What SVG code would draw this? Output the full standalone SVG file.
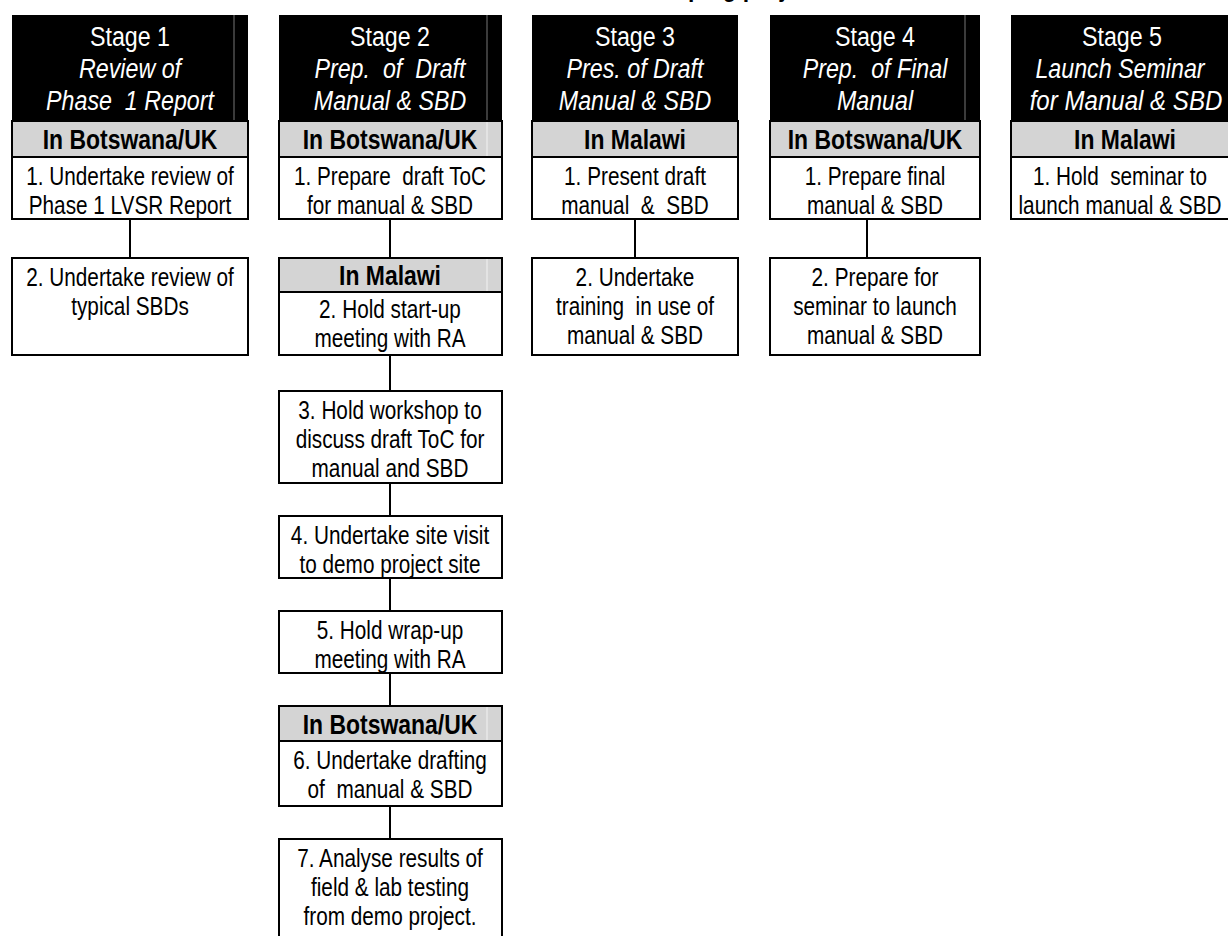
<svg xmlns="http://www.w3.org/2000/svg" width="1228" height="936" viewBox="0 0 1228 936">
<style>
text{font-family:"Liberation Sans",Arial,sans-serif;text-anchor:middle;white-space:pre}
.hd{fill:#000}
.gr{fill:#d4d4d4;stroke:#000;stroke-width:2}
.bx{fill:#fff;stroke:#000;stroke-width:2}
.h1{fill:#fff;font-size:28px}
.h2{fill:#fff;font-size:28px;font-style:italic}
.lb{fill:#000;font-size:27px;font-weight:bold}
.tx{fill:#000;font-size:25px}
.tl{fill:#000;font-size:27px;font-weight:bold;text-anchor:start}
.thin{stroke:#777;stroke-width:1}
.lite{stroke:#f2f2f2;stroke-width:1}
.cn{stroke:#000;stroke-width:2;fill:none}
</style>
<rect width="1228" height="936" fill="#fff"/>
<text class="tl" transform="translate(688,-4) scale(0.85,1)">ping project</text>

<g id="stage1">
<rect class="hd" x="12" y="15" width="236" height="106"/>
<line class="thin" x1="234" y1="15" x2="234" y2="121"/>
<text class="h1" transform="translate(130,46) scale(0.83,1)">Stage 1</text>
<text class="h2" transform="translate(130,78) scale(0.83,1)">Review of</text>
<text class="h2" transform="translate(130,110) scale(0.83,1)">Phase  1 Report</text>
<rect class="gr" x="12" y="121" width="236" height="36"/>
<text class="lb" transform="translate(130,149) scale(0.85,1)">In Botswana/UK</text>
<rect class="bx" x="12" y="157" width="236" height="62"/>
<text class="tx" transform="translate(130,185) scale(0.83,1)">1. Undertake review of</text>
<text class="tx" transform="translate(130,214) scale(0.83,1)">Phase 1 LVSR Report</text>
</g>
<g id="s1n2">
<rect class="bx" x="12" y="258" width="236" height="97"/>
<text class="tx" transform="translate(130,286) scale(0.83,1)">2. Undertake review of</text>
<text class="tx" transform="translate(130,315) scale(0.83,1)">typical SBDs</text>
</g>

<g id="stage2">
<rect class="hd" x="279" y="15" width="223" height="106"/>
<line class="thin" x1="487" y1="15" x2="487" y2="121"/>
<text class="h1" transform="translate(390,46) scale(0.83,1)">Stage 2</text>
<text class="h2" transform="translate(390,78) scale(0.83,1)">Prep.  of  Draft</text>
<text class="h2" transform="translate(390,110) scale(0.83,1)">Manual &amp; SBD</text>
<rect class="gr" x="279" y="121" width="223" height="36"/>
<line class="lite" x1="487" y1="122" x2="487" y2="156"/>
<text class="lb" transform="translate(390,149) scale(0.85,1)">In Botswana/UK</text>
<rect class="bx" x="279" y="157" width="223" height="62"/>
<text class="tx" transform="translate(390,185) scale(0.83,1)">1. Prepare  draft ToC</text>
<text class="tx" transform="translate(390,214) scale(0.83,1)">for manual &amp; SBD</text>
</g>
<g id="s2n2">
<rect class="gr" x="279" y="258" width="223" height="34"/>
<line class="lite" x1="487" y1="259" x2="487" y2="291"/>
<text class="lb" transform="translate(390,285) scale(0.85,1)">In Malawi</text>
<rect class="bx" x="279" y="292" width="223" height="63"/>
<text class="tx" transform="translate(390,318) scale(0.83,1)">2. Hold start-up</text>
<text class="tx" transform="translate(390,347) scale(0.83,1)">meeting with RA</text>
</g>
<g id="s2n3">
<rect class="bx" x="279" y="391" width="223" height="92"/>
<text class="tx" transform="translate(390,419) scale(0.83,1)">3. Hold workshop to</text>
<text class="tx" transform="translate(390,448) scale(0.83,1)">discuss draft ToC for</text>
<text class="tx" transform="translate(390,477) scale(0.83,1)">manual and SBD</text>
</g>
<g id="s2n4">
<rect class="bx" x="279" y="516" width="223" height="62"/>
<text class="tx" transform="translate(390,544) scale(0.83,1)">4. Undertake site visit</text>
<text class="tx" transform="translate(390,573) scale(0.83,1)">to demo project site</text>
</g>
<g id="s2n5">
<rect class="bx" x="279" y="611" width="223" height="62"/>
<text class="tx" transform="translate(390,639) scale(0.83,1)">5. Hold wrap-up</text>
<text class="tx" transform="translate(390,668) scale(0.83,1)">meeting with RA</text>
</g>
<g id="s2n6">
<rect class="gr" x="279" y="706" width="223" height="35"/>
<line class="lite" x1="487" y1="707" x2="487" y2="740"/>
<text class="lb" transform="translate(390,734) scale(0.85,1)">In Botswana/UK</text>
<rect class="bx" x="279" y="741" width="223" height="65"/>
<text class="tx" transform="translate(390,769) scale(0.83,1)">6. Undertake drafting</text>
<text class="tx" transform="translate(390,798) scale(0.83,1)">of  manual &amp; SBD</text>
</g>
<g id="s2n7">
<rect class="bx" x="279" y="839" width="223" height="110"/>
<text class="tx" transform="translate(390,867) scale(0.83,1)">7. Analyse results of</text>
<text class="tx" transform="translate(390,896) scale(0.83,1)">field &amp; lab testing</text>
<text class="tx" transform="translate(390,925) scale(0.83,1)">from demo project.</text>
</g>

<g id="stage3">
<rect class="hd" x="532" y="15" width="206" height="106"/>
<text class="h1" transform="translate(635,46) scale(0.83,1)">Stage 3</text>
<text class="h2" transform="translate(635,78) scale(0.83,1)">Pres. of Draft</text>
<text class="h2" transform="translate(635,110) scale(0.83,1)">Manual &amp; SBD</text>
<rect class="gr" x="532" y="121" width="206" height="36"/>
<text class="lb" transform="translate(635,149) scale(0.85,1)">In Malawi</text>
<rect class="bx" x="532" y="157" width="206" height="62"/>
<text class="tx" transform="translate(635,185) scale(0.83,1)">1. Present draft</text>
<text class="tx" transform="translate(635,214) scale(0.83,1)">manual  &amp;  SBD</text>
</g>
<g id="s3n2">
<rect class="bx" x="532" y="258" width="206" height="97"/>
<text class="tx" transform="translate(635,286) scale(0.83,1)">2. Undertake</text>
<text class="tx" transform="translate(635,315) scale(0.83,1)">training  in use of</text>
<text class="tx" transform="translate(635,344) scale(0.83,1)">manual &amp; SBD</text>
</g>

<g id="stage4">
<rect class="hd" x="770" y="15" width="210" height="106"/>
<line class="thin" x1="965" y1="15" x2="965" y2="121"/>
<text class="h1" transform="translate(875,46) scale(0.83,1)">Stage 4</text>
<text class="h2" transform="translate(875,78) scale(0.83,1)">Prep.  of Final</text>
<text class="h2" transform="translate(875,110) scale(0.83,1)">Manual</text>
<rect class="gr" x="770" y="121" width="210" height="36"/>
<text class="lb" transform="translate(875,149) scale(0.85,1)">In Botswana/UK</text>
<rect class="bx" x="770" y="157" width="210" height="62"/>
<text class="tx" transform="translate(875,185) scale(0.83,1)">1. Prepare final</text>
<text class="tx" transform="translate(875,214) scale(0.83,1)">manual &amp; SBD</text>
</g>
<g id="s4n2">
<rect class="bx" x="770" y="258" width="210" height="97"/>
<text class="tx" transform="translate(875,286) scale(0.83,1)">2. Prepare for</text>
<text class="tx" transform="translate(875,315) scale(0.83,1)">seminar to launch</text>
<text class="tx" transform="translate(875,344) scale(0.83,1)">manual &amp; SBD</text>
</g>

<g id="stage5">
<rect class="hd" x="1011" y="15" width="230" height="106"/>
<text class="h1" transform="translate(1122,46) scale(0.83,1)">Stage 5</text>
<text class="h2" transform="translate(1120,78) scale(0.83,1)">Launch Seminar</text>
<text class="h2" transform="translate(1126,110) scale(0.86,1)">for Manual &amp; SBD</text>
<rect class="gr" x="1011" y="121" width="230" height="36"/>
<text class="lb" transform="translate(1125,149) scale(0.85,1)">In Malawi</text>
<rect class="bx" x="1011" y="157" width="230" height="62"/>
<text class="tx" transform="translate(1120,185) scale(0.83,1)">1. Hold  seminar to</text>
<text class="tx" transform="translate(1120,214) scale(0.83,1)">launch manual &amp; SBD</text>
</g>

<g id="connectors">
<line class="cn" x1="130" y1="219" x2="130" y2="258"/>
<line class="cn" x1="390" y1="219" x2="390" y2="258"/>
<line class="cn" x1="390" y1="355" x2="390" y2="391"/>
<line class="cn" x1="390" y1="483" x2="390" y2="516"/>
<line class="cn" x1="390" y1="578" x2="390" y2="611"/>
<line class="cn" x1="390" y1="673" x2="390" y2="706"/>
<line class="cn" x1="390" y1="806" x2="390" y2="839"/>
<line class="cn" x1="635" y1="219" x2="635" y2="258"/>
<line class="cn" x1="867" y1="219" x2="867" y2="258"/>
</g>
</svg>
